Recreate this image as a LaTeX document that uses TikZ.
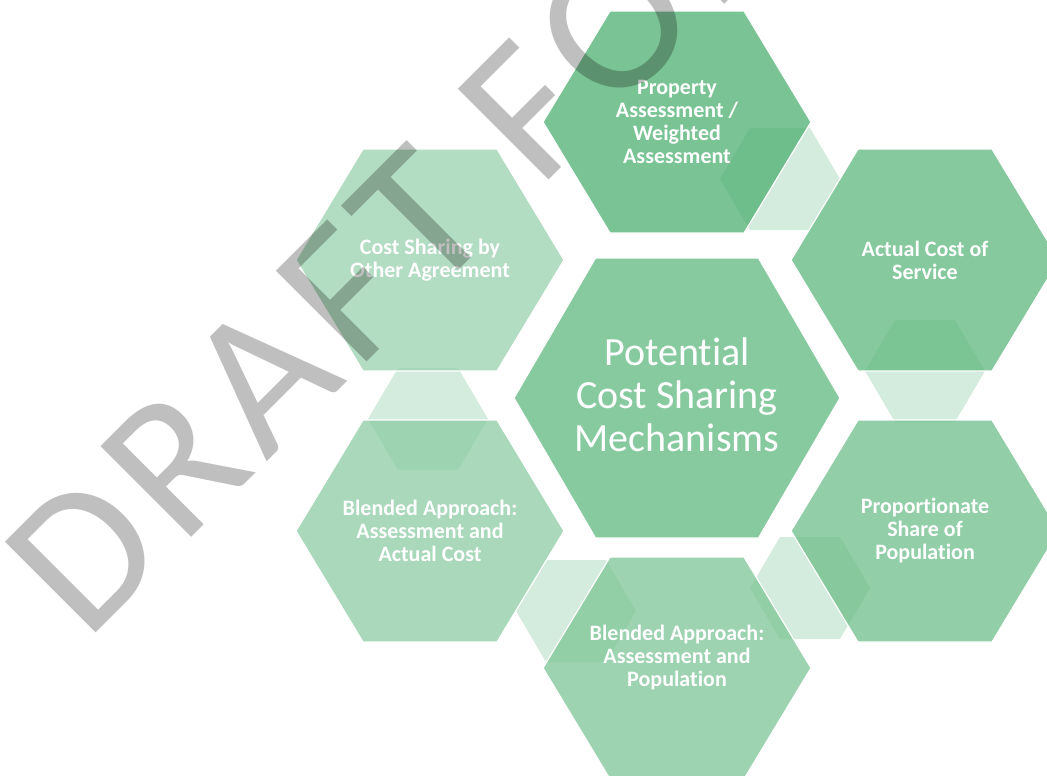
\documentclass[tikz,border=0pt]{standalone}
\usepackage{fontspec}
\setmainfont{Carlito}[Ligatures=NoCommon]
\definecolor{hexgreen}{RGB}{70,172,106}
\newcommand{\hexcell}[4]{%
  \path[#1] (#2) +(-#3,0) -- +(-#3/2,-#4) -- +(#3/2,-#4) -- +(#3,0) -- +(#3/2,#4) -- +(-#3/2,#4) -- cycle;}
\begin{document}
\begin{tikzpicture}[x=1pt, y=-1pt,
	hexbox/.style={ fill=hexgreen!#1!white, fill opacity=.75, draw=white, line width=1.2pt },
	hexlink/.style={ fill=hexgreen, fill opacity=0.23, draw=none },
	hextext/.style={ text=white, font=\bfseries\fontsize{22}{23}\selectfont, align=center, inner sep=0pt },
	hubtext/.style={ text=white, font=\fontsize{40}{43}\selectfont, align=center, inner sep=0pt },
	watermark/.style={ text=black, text opacity=0.25, font=\fontsize{200}{200}\selectfont\addfontfeature{LetterSpace=6}, inner sep=0pt }
]
\useasboundingbox (0,0) rectangle (1047,776);
\clip (0,0) rectangle (1047,776);

\coordinate (h0) at (677,398);
\coordinate (h1) at (677,122);
\coordinate (h2) at (925,260);
\coordinate (h3) at (925,531);
\coordinate (h4) at (677,668);
\coordinate (h5) at (430,531);
\coordinate (h6) at (430,260);
\coordinate (k1) at (780,179);
\coordinate (k2) at (925,371);
\coordinate (k3) at (810,588);
\coordinate (k4) at (576,611);
\coordinate (k5) at (428,419);

\foreach \k in {k1,k2,k3,k4,k5}{
  \hexcell{hexlink}{\k}{60}{51}
}

\hexcell{hexbox=86}{h0}{163}{140}
\hexcell{hexbox=96}{h1}{134}{111}
\hexcell{hexbox=87}{h2}{134}{111}
\hexcell{hexbox=79}{h3}{134}{111}
\hexcell{hexbox=71}{h4}{134}{111}
\hexcell{hexbox=62}{h5}{134}{111}
\hexcell{hexbox=55}{h6}{134}{111}

\node[hubtext] (t0) at ([yshift=3pt]h0) {Potential\\Cost Sharing\\Mechanisms};
\node[hextext] (t1) at (h1) {Property\\Assessment /\\Weighted\\Assessment};
\node[hextext] (t2) at (h2) {Actual Cost of\\Service};
\node[hextext] (t3) at (h3) {Proportionate\\Share of\\Population};
\node[hextext] (t4) at ([yshift=10pt]h4) {Blended Approach:\\Assessment and\\Population};
\node[hextext] (t5) at (h5) {Blended Approach:\\Assessment and\\Actual Cost};
\node[hextext] (t6) at (h6) {Cost Sharing by\\Other Agreement};

\node[watermark, rotate=45, anchor=base west] (wm) at (86,643) {DRAFT FOR};

\end{tikzpicture}
\end{document}
